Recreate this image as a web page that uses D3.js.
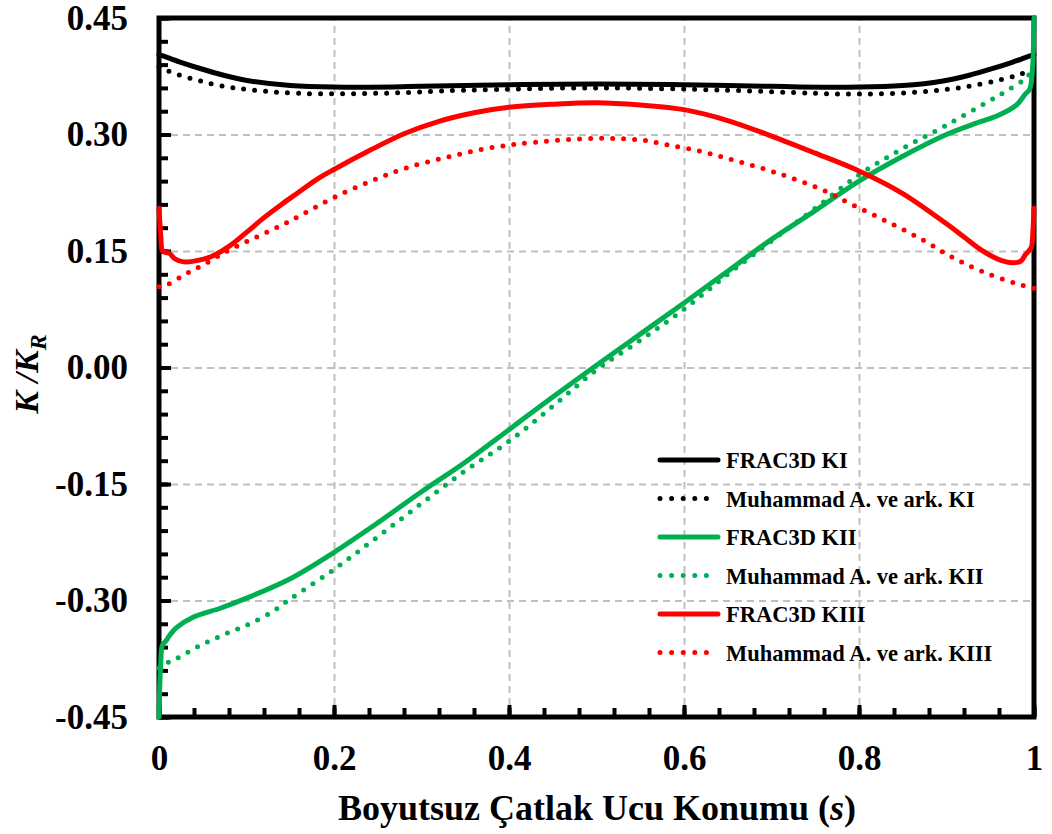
<!DOCTYPE html>
<html>
<head lang="tr">
    <meta charset="UTF-8">
    <script type="text/javascript" src="https://cdnjs.cloudflare.com/ajax/libs/d3/7.8.5/d3.min.js"></script>
    <title></title>
</head>
<body style="margin:0;background:#fff">
<style>
    text { font-family: "Liberation Serif", "Times New Roman", serif; font-weight: bold; }
    .grid line { stroke: #bfbfbf; stroke-width: 2; stroke-dasharray: 7 5; }
    .grid path, .minor path, .major path { display: none; }
    .major line, .minor line { stroke: #000; stroke-width: 4; }
</style>
<script type="text/javascript">
    // veriler
    var kiFrac_s  = [0, 0.01, 0.025, 0.047, 0.075, 0.104, 0.15, 0.2, 0.3, 0.4, 0.5, 0.6, 0.7, 0.8, 0.85, 0.896, 0.925, 0.953, 0.975, 0.99, 1];
    var kiFrac_v  = [0.403, 0.399, 0.393, 0.385, 0.376, 0.369, 0.363, 0.361, 0.362, 0.364, 0.365, 0.364, 0.362, 0.361, 0.363, 0.369, 0.376, 0.385, 0.393, 0.399, 0.403];
    var kiMuh_s   = [0, 0.01, 0.025, 0.047, 0.07, 0.1, 0.16, 0.25, 0.35, 0.5, 0.65, 0.75, 0.8, 0.86, 0.9, 0.93, 0.96, 0.98, 0.99, 1];
    var kiMuh_v   = [0.387, 0.382, 0.376, 0.369, 0.363, 0.358, 0.353, 0.353, 0.357, 0.360, 0.357, 0.353, 0.352, 0.354, 0.358, 0.363, 0.370, 0.376, 0.380, 0.384];

    var kiiFrac_s = [0, 0.002, 0.004, 0.008, 0.012, 0.02, 0.04, 0.07, 0.1, 0.15, 0.2, 0.25, 0.3, 0.35, 0.4, 0.45, 0.5, 0.55, 0.6, 0.65, 0.7, 0.75, 0.8, 0.85, 0.9, 0.93, 0.96, 0.98, 0.99, 0.995, 0.998, 1];
    var kiiFrac_v = [-0.45, -0.38, -0.357, -0.352, -0.345, -0.335, -0.321, -0.310, -0.297, -0.272, -0.238, -0.200, -0.160, -0.122, -0.080, -0.038, 0.003, 0.043, 0.083, 0.124, 0.165, 0.202, 0.240, 0.272, 0.300, 0.313, 0.325, 0.338, 0.352, 0.358, 0.38, 0.45];
    var kiiMuh_s  = [0, 0.01, 0.02, 0.04, 0.06, 0.08, 0.1, 0.13, 0.15, 0.2, 0.25, 0.3, 0.35, 0.4, 0.45, 0.5, 0.55, 0.6, 0.65, 0.7, 0.75, 0.8, 0.85, 0.9, 0.95, 0.97, 0.99, 1];
    var kiiMuh_v  = [-0.387, -0.380, -0.375, -0.362, -0.351, -0.341, -0.332, -0.314, -0.298, -0.260, -0.218, -0.175, -0.133, -0.095, -0.050, -0.003, 0.035, 0.075, 0.120, 0.163, 0.205, 0.248, 0.282, 0.312, 0.344, 0.357, 0.372, 0.385];

    var kiiiFrac_s = [0, 0.002, 0.004, 0.008, 0.012, 0.018, 0.028, 0.04, 0.06, 0.08, 0.1, 0.12, 0.14, 0.16, 0.18, 0.2, 0.24, 0.28, 0.32, 0.36, 0.4, 0.45, 0.5, 0.55, 0.6, 0.65, 0.7, 0.75, 0.8, 0.85, 0.9, 0.92, 0.94, 0.96, 0.975, 0.985, 0.99, 0.994, 0.997, 0.999, 1];
    var kiiiFrac_v = [0.205, 0.170, 0.150, 0.148, 0.147, 0.140, 0.136, 0.137, 0.143, 0.156, 0.174, 0.193, 0.210, 0.226, 0.242, 0.255, 0.279, 0.301, 0.317, 0.328, 0.335, 0.339, 0.341, 0.338, 0.332, 0.318, 0.298, 0.276, 0.253, 0.224, 0.185, 0.168, 0.151, 0.139, 0.135, 0.137, 0.145, 0.150, 0.155, 0.180, 0.205];
    var kiiiMuh_s  = [0, 0.01, 0.03, 0.055, 0.078, 0.1, 0.125, 0.147, 0.17, 0.2, 0.24, 0.28, 0.33, 0.38, 0.43, 0.5, 0.55, 0.58, 0.62, 0.66, 0.71, 0.76, 0.79, 0.83, 0.87, 0.905, 0.94, 0.98, 1];
    var kiiiMuh_v  = [0.104, 0.107, 0.120, 0.135, 0.150, 0.162, 0.175, 0.187, 0.201, 0.219, 0.239, 0.256, 0.271, 0.283, 0.290, 0.295, 0.293, 0.287, 0.278, 0.266, 0.249, 0.228, 0.211, 0.189, 0.166, 0.143, 0.124, 0.108, 0.102];

    var seriesNames = ["FRAC3D KI", "Muhammad A. ve ark. KI", "FRAC3D KII", "Muhammad A. ve ark. KII", "FRAC3D KIII", "Muhammad A. ve ark. KIII"];
    var seriesS = [kiFrac_s, kiMuh_s, kiiFrac_s, kiiMuh_s, kiiiFrac_s, kiiiMuh_s];
    var seriesV = [kiFrac_v, kiMuh_v, kiiFrac_v, kiiMuh_v, kiiiFrac_v, kiiiMuh_v];
    var seriesColor = ["#000000", "#000000", "#00b050", "#00b050", "#ff0000", "#ff0000"];
    var seriesDotted = [false, true, false, true, false, true];

    var xMajor = [0, 0.2, 0.4, 0.6, 0.8, 1];
    var xMinor = d3.range(0, 1.0001, 0.04);
    var yMajor = [-0.45, -0.30, -0.15, 0, 0.15, 0.30, 0.45];
    var yMinor = d3.range(-0.45, 0.4501, 0.03);

    // tuval
    var W = 1052, H = 834;
    var L = 159, R = 1034, T = 18, B = 717;
    var svg = d3.select("body").append("svg")
            .attr("width", W)
            .attr("height", H);

    var x = d3.scaleLinear().domain([0, 1]).range([L, R]);
    var y = d3.scaleLinear().domain([-0.45, 0.45]).range([B, T]);
    var fmtY = function (d) { return d3.format(".2f")(d).replace("\u2212", "-"); };

    // izgara
    svg.append("g").attr("class", "grid")
            .attr("transform", "translate(0," + B + ")")
            .call(d3.axisBottom(x).tickValues([0.2, 0.4, 0.6, 0.8]).tickSize(-(B - T)).tickFormat(""));
    svg.append("g").attr("class", "grid")
            .attr("transform", "translate(" + L + ",0)")
            .call(d3.axisLeft(y).tickValues([-0.30, -0.15, 0, 0.15, 0.30]).tickSize(-(R - L)).tickFormat(""));

    // eksenler
    svg.append("g").attr("class", "minor")
            .attr("transform", "translate(" + L + ",0)")
            .call(d3.axisLeft(y).tickValues(yMinor).tickSize(-9).tickFormat(""));
    svg.append("g").attr("class", "major")
            .attr("transform", "translate(" + L + ",0)")
            .call(d3.axisLeft(y).tickValues(yMajor).tickSize(-12).tickPadding(31).tickFormat(fmtY))
            .selectAll("text").style("font-size", "35px").attr("fill", "#000");
    svg.append("g").attr("class", "minor")
            .attr("transform", "translate(0," + B + ")")
            .call(d3.axisBottom(x).tickValues(xMinor).tickSize(-9).tickFormat(""));
    svg.append("g").attr("class", "major")
            .attr("transform", "translate(0," + B + ")")
            .call(d3.axisBottom(x).tickValues(xMajor).tickSize(-12).tickPadding(28).tickFormat(d3.format("")))
            .selectAll("text").style("font-size", "35px").attr("fill", "#000");

    svg.append("rect")
            .attr("x", L).attr("y", T)
            .attr("width", R - L).attr("height", B - T)
            .attr("fill", "none").attr("stroke", "#000").attr("stroke-width", 5);

    // egriler (cerceve ustunde)
    var line = d3.line().curve(d3.curveCatmullRom.alpha(0.5));
    seriesNames.forEach(function (name, k) {
        var pts = seriesS[k].map(function (s, i) { return [x(s), y(seriesV[k][i])]; });
        var p = svg.append("path")
                .attr("d", line(pts))
                .attr("fill", "none")
                .attr("stroke", seriesColor[k])
                .attr("stroke-width", 5)
                .attr("stroke-linecap", "round")
                .attr("stroke-linejoin", "round");
        if (seriesDotted[k]) p.attr("stroke-dasharray", "0 11");
    });

    // eksen basliklari
    var xt = svg.append("text")
            .attr("x", 597).attr("y", 820)
            .attr("text-anchor", "middle")
            .style("font-size", "36px");
    xt.append("tspan").text("Boyutsuz Çatlak Ucu Konumu (");
    xt.append("tspan").style("font-style", "italic").text("s");
    xt.append("tspan").text(")");

    var yt = svg.append("text")
            .attr("transform", "translate(38,374) rotate(-90)")
            .attr("text-anchor", "middle")
            .style("font-size", "34px").style("font-style", "italic");
    yt.append("tspan").text("K /K");
    yt.append("tspan").attr("dy", 8).style("font-size", "24px").text("R");

    // lejant
    var legX1 = 660, legX2 = 718, legY0 = 460, legDy = 38.5;
    seriesNames.forEach(function (name, k) {
        var ly = legY0 + k * legDy;
        var l = svg.append("line")
                .attr("x1", legX1).attr("x2", legX2)
                .attr("y1", ly).attr("y2", ly)
                .attr("stroke", seriesColor[k])
                .attr("stroke-width", 5)
                .attr("stroke-linecap", "round");
        if (seriesDotted[k]) l.attr("stroke-dasharray", "0 11.6");
        svg.append("text")
                .attr("x", 726).attr("y", ly + 8)
                .style("font-size", "22.5px")
                .text(name);
    });
</script>
</body>
</html>
